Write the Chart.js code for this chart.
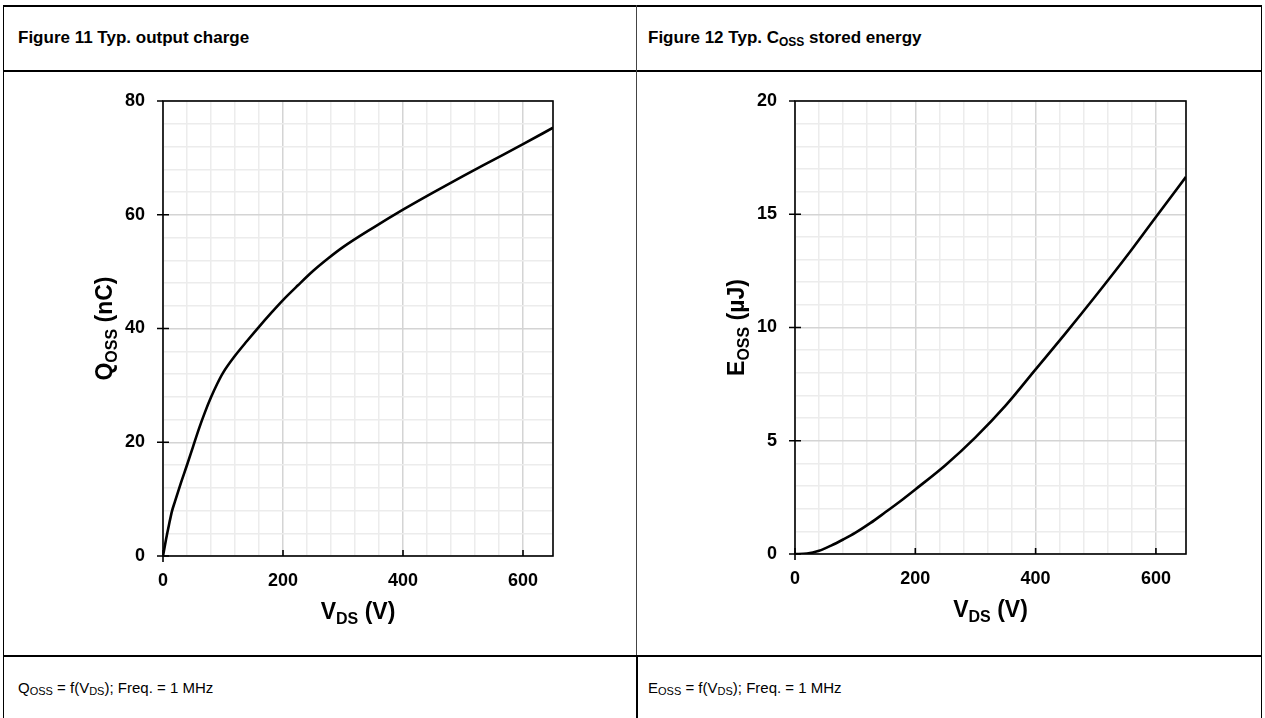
<!DOCTYPE html>
<html>
<head>
<meta charset="utf-8">
<script src="https://cdn.jsdelivr.net/npm/chart.js@4/dist/chart.umd.min.js"></script>
<style>
  body { margin: 0; background: #fff; font-family: "Liberation Sans", Arial, sans-serif; }
  #page { position: relative; width: 1265px; height: 718px; overflow: hidden; }
  .ln { position: absolute; background: #000; }
  .head { position: absolute; top: 28px; font-size: 17px; font-weight: bold; color: #000; }
  .foot { position: absolute; top: 679px; font-size: 15px; color: #000; }
  .head sub { font-size: 12px; vertical-align: -3px; }
  .foot sub { font-size: 11px; vertical-align: -2px; }
  .cell { position: absolute; top: 72px; }
</style>
</head>
<body>
<div id="page">
  <!-- 표 테두리 -->
  <div class="ln" style="left:3px; top:5px; width:1259px; height:2px;"></div>
  <div class="ln" style="left:3px; top:5px; width:1px; height:720px;"></div>
  <div class="ln" style="left:1261px; top:5px; width:1px; height:720px;"></div>
  <div class="ln" style="left:3px; top:70px; width:1259px; height:2px;"></div>
  <div class="ln" style="left:3px; top:655px; width:1259px; height:2px;"></div>
  <div class="ln" style="left:636px; top:5px; width:1px; height:650px; background:#444;"></div>
  <div class="ln" style="left:636px; top:655px; width:2px; height:70px;"></div>

  <div class="head" style="left:18px;">Figure 11 Typ. output charge</div>
  <div class="head" style="left:648px;">Figure 12 Typ. C<sub>OSS</sub> stored energy</div>

  <div class="cell" style="left:3px;"><canvas id="qossChart" width="633" height="583"></canvas></div>
  <div class="cell" style="left:638px;"><canvas id="eossChart" width="624" height="583"></canvas></div>

  <div class="foot" style="left:18px;">Q<sub>OSS</sub> = f(V<sub>DS</sub>); Freq. = 1 MHz</div>
  <div class="foot" style="left:648px;">E<sub>OSS</sub> = f(V<sub>DS</sub>); Freq. = 1 MHz</div>
</div>

<script>
// 그림 11: 출력 전하 Qoss (nC) vs Vds (V)
const qVds = [0, 5, 10, 15, 20, 30, 40, 50, 60, 70, 80, 90, 100, 120, 140, 160, 180, 200, 225, 250, 275, 300, 350, 400, 450, 500, 550, 600, 650];
const qoss = [0, 2.9, 5.5, 7.9, 9.6, 12.9, 16.0, 19.2, 22.4, 25.3, 27.9, 30.2, 32.2, 35.2, 37.8, 40.3, 42.7, 45.0, 47.6, 50.1, 52.3, 54.3, 57.7, 60.9, 63.9, 66.8, 69.6, 72.4, 75.3];

// 그림 12: Coss 저장 에너지 Eoss (uJ) vs Vds (V)
const eVds = [0, 20, 40, 60, 80, 100, 125, 150, 175, 200, 250, 300, 350, 400, 450, 500, 550, 600, 650];
const eoss = [0, 0.02, 0.14, 0.37, 0.64, 0.93, 1.36, 1.84, 2.33, 2.85, 3.92, 5.15, 6.55, 8.15, 9.75, 11.4, 13.1, 14.88, 16.65];

// 눈금 라벨
const vdsTicks = [0, 200, 400, 600];
const qossTicks = [0, 20, 40, 60, 80];
const eossTicks = [0, 5, 10, 15, 20];

const FONT = '"Liberation Sans", Arial, sans-serif';

// 아래첨자가 있는 축 제목 그리기 (기준선 위치 기준)
function drawRich(ctx, parts, cx, baseY, angle) {
    ctx.save();
    ctx.translate(cx, baseY);
    ctx.rotate(angle);
    ctx.textBaseline = 'alphabetic';
    ctx.textAlign = 'left';
    ctx.fillStyle = '#000';
    const big = 'bold 23px ' + FONT;
    const small = 'bold 16px ' + FONT;
    let w = 0;
    const widths = parts.map(([t, sub]) => {
        ctx.font = sub ? small : big;
        const m = ctx.measureText(t).width;
        w += m;
        return m;
    });
    let x = -w / 2;
    parts.forEach(([t, sub], i) => {
        ctx.font = sub ? small : big;
        ctx.fillText(t, x, sub ? 5 : 0);
        x += widths[i];
    });
    ctx.restore();
}

// 플롯 테두리, 주 눈금, 축 제목
const framePlugin = {
    id: 'frame',
    afterDraw(chart, args, opts) {
        const { ctx, chartArea: a, scales: { x, y } } = chart;
        ctx.save();
        ctx.strokeStyle = '#000';
        ctx.lineWidth = 1.6;
        ctx.strokeRect(a.left, a.top, a.width, a.height);
        ctx.beginPath();
        opts.yMajor.forEach(v => {
            const py = y.getPixelForValue(v);
            ctx.moveTo(a.left - 6, py);
            ctx.lineTo(v === opts.yMajor[opts.yMajor.length - 1] ? a.left : a.left + 6, py);
        });
        opts.xMajor.forEach(v => {
            const px = x.getPixelForValue(v);
            ctx.moveTo(px, a.bottom + (v === 0 ? 6 : 0));
            ctx.lineTo(px, a.bottom - 6);
        });
        ctx.stroke();
        ctx.restore();
        drawRich(ctx, opts.xTitle, (a.left + a.right) / 2, a.bottom + 63, 0);
        drawRich(ctx, opts.yTitle, a.left - 51, (a.top + a.bottom) / 2, -Math.PI / 2);
    }
};

function makeChart(id, xs, ys, yMax, yStep, yMajorStep, yMajor, yTitle, dims) {
    const gridColor = major => c => (c.tick && c.tick.value % major === 0) ? '#d4d4d4' : '#ececec';
    new Chart(document.getElementById(id), {
        type: 'line',
        data: {
            datasets: [{
                data: xs.map((v, i) => ({ x: v, y: ys[i] })),
                borderColor: '#000',
                borderWidth: 2.6,
                pointRadius: 0,
                cubicInterpolationMode: 'monotone',
                fill: false
            }]
        },
        options: {
            responsive: false,
            animation: false,
            layout: { padding: { top: dims.top, right: dims.right, bottom: 0, left: 0 } },
            plugins: {
                legend: { display: false },
                tooltip: { enabled: false },
                frame: { xMajor: vdsTicks, yMajor: yMajor, xTitle: [['V', false], ['DS', true], [' (V)', false]], yTitle: yTitle }
            },
            scales: {
                x: {
                    type: 'linear', min: 0, max: 650,
                    afterFit: s => { s.height = dims.xh; },
                    border: { display: false },
                    grid: { color: gridColor(200), lineWidth: 1.5, drawTicks: false },
                    ticks: {
                        stepSize: 40, autoSkip: false, maxRotation: 0, padding: 14, color: '#000',
                        font: { family: FONT, size: 18, weight: 'bold' },
                        callback: v => vdsTicks.includes(v) ? String(v) : ''
                    }
                },
                y: {
                    type: 'linear', min: 0, max: yMax,
                    afterFit: s => { s.width = dims.yw; },
                    border: { display: false },
                    grid: { color: gridColor(yMajorStep), lineWidth: 1.5, drawTicks: false },
                    ticks: {
                        stepSize: yStep, autoSkip: false, padding: 18, color: '#000',
                        font: { family: FONT, size: 18, weight: 'bold' },
                        callback: v => yMajor.includes(v) ? String(v) : ''
                    }
                }
            }
        },
        plugins: [framePlugin]
    });
}

makeChart('qossChart', qVds, qoss, 80, 4, 20, qossTicks,
    [['Q', false], ['OSS', true], [' (nC)', false]],
    { top: 29, right: 83, xh: 99, yw: 160 });

makeChart('eossChart', eVds, eoss, 20, 1, 5, eossTicks,
    [['E', false], ['OSS', true], [' (µJ)', false]],
    { top: 29, right: 76, xh: 101, yw: 157 });
</script>
</body>
</html>
